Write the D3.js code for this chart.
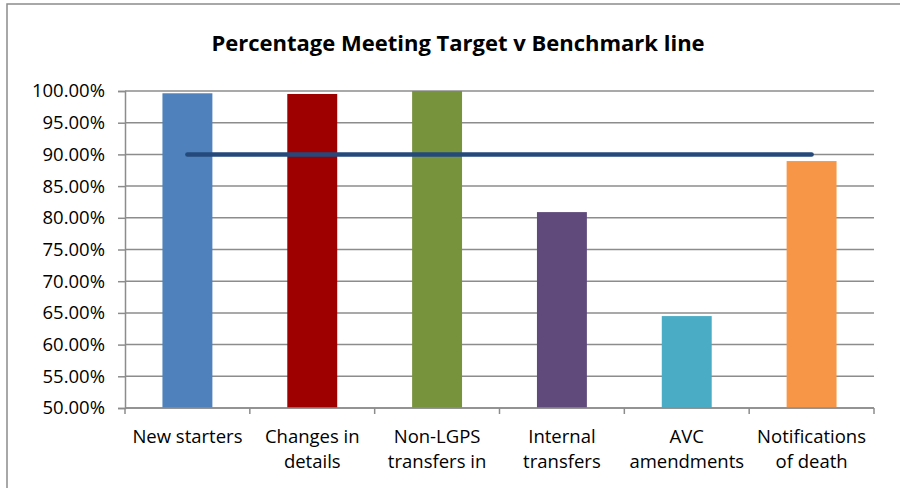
<!DOCTYPE html>
<html>
<head>
<meta charset="utf-8">
<script src="https://cdn.jsdelivr.net/npm/d3@7"></script>
<style>
  body { margin: 0; background: #fff; }
  svg { display: block; font-family: "Open Sans", "Liberation Sans", sans-serif; }
</style>
</head>
<body>
<div id="chart"></div>
<script>
// Data
let categories = [
  ["New starters"],
  ["Changes in", "details"],
  ["Non-LGPS", "transfers in"],
  ["Internal", "transfers"],
  ["AVC", "amendments"],
  ["Notifications", "of death"]
];
let values = [99.64, 99.53, 100.0, 80.9, 64.5, 88.95];
let benchmark = 90;
let barColors = ["#4F81BD", "#9E0000", "#77933C", "#604A7B", "#4BACC6", "#F79646"];
let yTicks = [50, 55, 60, 65, 70, 75, 80, 85, 90, 95, 100];

let width = 900, height = 488;
let margin = { left: 125, right: 26, top: 91, bottom: 80 };

let svg = d3.select("#chart").append("svg")
  .attr("width", width)
  .attr("height", height);

// chart frame
svg.append("rect")
  .attr("x", 7).attr("y", 4)
  .attr("width", width + 10).attr("height", height + 10)
  .attr("fill", "#fff")
  .attr("stroke", "#8c8c8c")
  .attr("stroke-width", 1.5);

// title
svg.append("text")
  .attr("x", 458).attr("y", 51)
  .attr("text-anchor", "middle")
  .attr("font-size", "22px")
  .attr("font-weight", "bold")
  .attr("fill", "#000")
  .text("Percentage Meeting Target v Benchmark line");

let x = d3.scaleBand()
  .domain(d3.range(categories.length))
  .range([margin.left, width - margin.right])
  .paddingInner(0.6)
  .paddingOuter(0.3);

let y = d3.scaleLinear()
  .domain([50, 100])
  .range([height - margin.bottom, margin.top]);

// gridlines
svg.append("g")
  .selectAll("line")
  .data(yTicks)
  .enter()
  .append("line")
  .attr("x1", margin.left)
  .attr("x2", width - margin.right)
  .attr("y1", d => y(d))
  .attr("y2", d => y(d))
  .attr("stroke", "#8c8c8c")
  .attr("stroke-width", 1.5);

// y axis
let yAxis = svg.append("g")
  .attr("transform", `translate(${margin.left},0)`)
  .call(d3.axisLeft(y).tickValues(yTicks).tickSize(7).tickPadding(13)
    .tickFormat(d => d3.format(".2f")(d) + "%"));
yAxis.selectAll("path, line").attr("stroke", "#8c8c8c").attr("stroke-width", 1.5);
yAxis.selectAll("text")
  .attr("font-family", "'Open Sans', sans-serif")
  .attr("font-size", "18.5px")
  .attr("fill", "#000");

// bars
svg.append("g")
  .selectAll("rect")
  .data(values)
  .enter()
  .append("rect")
  .attr("x", (d, i) => x(i))
  .attr("y", d => y(d))
  .attr("width", x.bandwidth())
  .attr("height", d => y(50) - y(d))
  .attr("fill", (d, i) => barColors[i]);

// x axis with ticks at band boundaries
let xEdges = d3.range(categories.length + 1).map(i => margin.left + i * x.step());
let xAxis = svg.append("g");
xAxis.append("line")
  .attr("x1", margin.left).attr("x2", width - margin.right)
  .attr("y1", y(50)).attr("y2", y(50))
  .attr("stroke", "#8c8c8c").attr("stroke-width", 1.5);
xAxis.selectAll(".tk")
  .data(xEdges)
  .enter()
  .append("line")
  .attr("class", "tk")
  .attr("x1", d => d).attr("x2", d => d)
  .attr("y1", y(50)).attr("y2", y(50) + 6)
  .attr("stroke", "#8c8c8c").attr("stroke-width", 1.5);

// category labels
let lbl = svg.append("g")
  .selectAll("text")
  .data(categories)
  .enter()
  .append("text")
  .attr("text-anchor", "middle")
  .attr("font-size", "18.5px")
  .attr("fill", "#000");
lbl.selectAll("tspan")
  .data((d, i) => d.map(t => ({ t: t, i: i })))
  .enter()
  .append("tspan")
  .attr("x", d => x(d.i) + x.bandwidth() / 2)
  .attr("y", (d, j) => 443 + j * 25)
  .text(d => d.t);

// benchmark line
svg.append("line")
  .attr("x1", x(0) + x.bandwidth() / 2)
  .attr("x2", x(categories.length - 1) + x.bandwidth() / 2)
  .attr("y1", y(benchmark))
  .attr("y2", y(benchmark))
  .attr("stroke", "#244A7C")
  .attr("stroke-width", 4.5)
  .attr("stroke-linecap", "round");
</script>
</body>
</html>
